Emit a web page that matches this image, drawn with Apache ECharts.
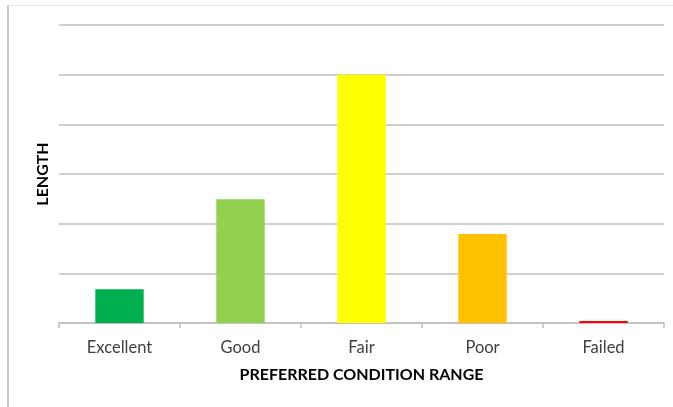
<!DOCTYPE html>
<html>
<head>
<meta charset="utf-8">
<script src="https://cdn.jsdelivr.net/npm/echarts@6/dist/echarts.min.js"></script>
<style>
  html, body { margin: 0; padding: 0; background: #fff; }
  #frame { position: absolute; left: 7px; top: 5px; width: 666px; height: 402px;
           border-left: 2px solid #c8c8c8; border-top: 1px solid #e4e4e4; box-sizing: border-box; }
  #chart { position: absolute; left: 0; top: 0; width: 673px; height: 407px; }
</style>
</head>
<body>
<div id="frame"></div>
<div id="chart"></div>
<script>
// Condition ranges and their lengths
const categories = ['Excellent', 'Good', 'Fair', 'Poor', 'Failed'];
const lengths = [0.68, 2.49, 5.0, 1.79, 0.04];
const barColors = ['#00B050', '#92D050', '#FFFF00', '#FFC000', '#FF0000'];

const FONT = 'Lato, "Open Sans", sans-serif';

const chart = echarts.init(document.getElementById('chart'), null, { renderer: 'canvas' });
chart.setOption({
  animation: false,
  backgroundColor: 'transparent',
  grid: { left: 59, right: 9, top: 25, bottom: 84, containLabel: false },
  xAxis: {
    type: 'category',
    data: categories,
    name: 'PREFERRED CONDITION RANGE',
    nameLocation: 'middle',
    nameGap: 44,
    nameTextStyle: { fontFamily: FONT, fontWeight: 'bold', fontSize: 16, color: '#000' },
    axisLine: { lineStyle: { color: '#bfbfbf', width: 1.5 } },
    axisTick: { show: true, length: 5, lineStyle: { color: '#bfbfbf', width: 1.5 } },
    axisLabel: { fontFamily: FONT, fontSize: 16.5, color: '#404040', margin: 16 },
    splitLine: { show: false }
  },
  yAxis: {
    type: 'value',
    min: 0,
    max: 6,
    interval: 1,
    name: 'LENGTH',
    nameLocation: 'middle',
    nameGap: 8,
    nameTextStyle: { fontFamily: FONT, fontWeight: 'bold', fontSize: 16, color: '#000' },
    axisLine: { show: false },
    axisTick: { show: false },
    axisLabel: { show: false },
    splitLine: { lineStyle: { color: '#bfbfbf', width: 1.5 } }
  },
  series: [{
    type: 'bar',
    data: lengths.map((v, i) => ({ value: v, itemStyle: { color: barColors[i] } })),
    barWidth: '40%'
  }]
});
</script>
</body>
</html>
